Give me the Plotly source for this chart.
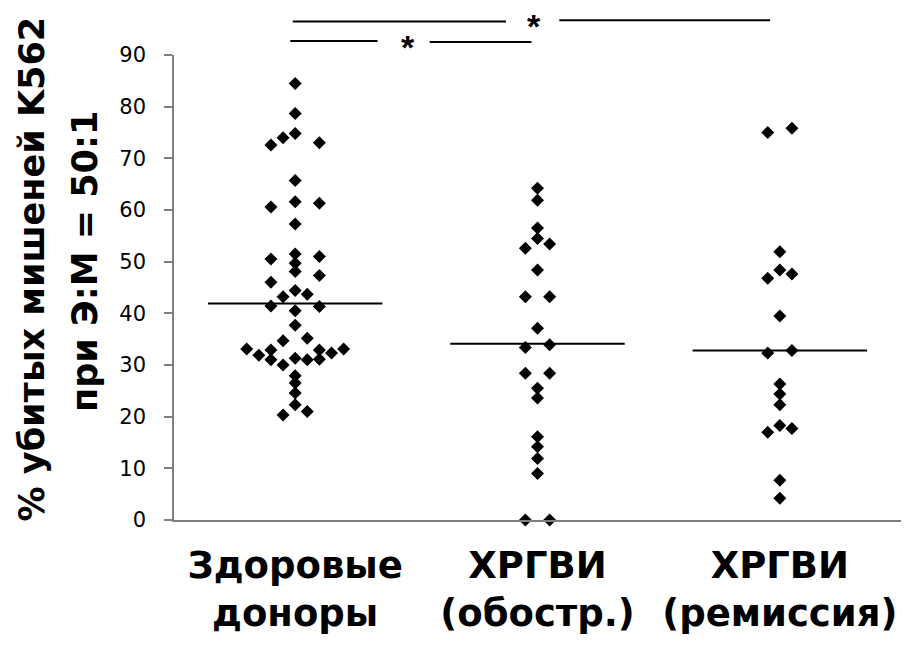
import plotly.graph_objects as go

categories = ["Здоровые<br>доноры", "ХРГВИ<br>(обостр.)", "ХРГВИ<br>(ремиссия)"]

healthy_values = [84.5, 78.7, 74.8, 74.0, 72.6, 73.0, 65.7, 60.6, 61.6, 61.3, 57.3,
                  50.5, 51.5, 49.7, 48.1, 51.0, 47.3, 46.0, 44.4, 43.2, 43.7, 41.4,
                  41.3, 40.5, 37.7, 34.7, 35.2, 33.1, 31.9, 32.9, 31.0, 30.0, 31.3,
                  31.0, 32.9, 31.1, 32.3, 33.1, 27.9, 26.5, 24.6, 22.3, 20.3, 21.0]
healthy_slots = [0, 0, 0, -1, -2, 2, 0, -2, 0, 2, 0,
                 -2, 0, 0, 0, 2, 2, -2, 0, -1, 1, -2,
                 2, 0, 0, -1, 1, -4, -3, -2, -2, -1, 0,
                 1, 2, 2, 3, 4, 0, 0, 0, 0, -1, 1]

exacerb_values = [64.2, 61.9, 56.5, 54.5, 52.6, 53.4, 48.4, 43.2, 43.2, 37.1, 33.4,
                  33.9, 28.4, 28.4, 25.5, 23.6, 16.1, 14.2, 11.9, 9.0, 0.0, 0.0]
exacerb_slots = [0, 0, 0, 0, -1, 1, 0, -1, 1, 0, -1,
                 1, -1, 1, 0, 0, 0, 0, 0, 0, -1, 1]

remission_values = [75.0, 75.8, 51.9, 48.4, 46.8, 47.6, 39.5, 32.3, 32.8, 26.3, 24.4,
                    22.3, 17.0, 18.3, 17.7, 7.7, 4.2]
remission_slots = [-1, 1, 0, 0, -1, 1, 0, -1, 1, 0, 0,
                   0, -1, 0, 1, 0, 0]

medians = [41.9, 34.1, 32.8]

y_ticks = [0, 10, 20, 30, 40, 50, 60, 70, 80, 90]
y_title_lines = ["% убитых мишеней K562", "при Э:М = 50:1"]

SLOT = 0.05
HALF = 0.36
FONT = "DejaVu Sans, Liberation Sans, Arial, sans-serif"

groups = [(healthy_values, healthy_slots), (exacerb_values, exacerb_slots),
          (remission_values, remission_slots)]

fig = go.Figure()
for i, (vals, slots) in enumerate(groups):
    pos = i + 1
    fig.add_trace(go.Scatter(
        x=[pos + s * SLOT for s in slots], y=vals, mode="markers",
        marker=dict(symbol="diamond", size=10, color="black", line=dict(width=0)),
        cliponaxis=False, showlegend=False, hoverinfo="y"))
    fig.add_trace(go.Scatter(
        x=[pos - HALF, pos + HALF], y=[medians[i], medians[i]], mode="lines",
        line=dict(color="black", width=2), showlegend=False, hoverinfo="skip"))

# significance brackets
brackets = [
    # (x0, x1, y_paper)
    (0.99, 1.87, 1.072), (2.09, 2.96, 1.075),
    (0.98, 1.34, 1.030), (1.555, 1.975, 1.028),
]
for x0, x1, yp in brackets:
    fig.add_shape(type="line", xref="x", yref="paper", x0=x0, x1=x1, y0=yp, y1=yp,
                  line=dict(color="black", width=2))

stars = [(1.985, 1.062), (1.465, 1.017)]
for xs, ys in stars:
    fig.add_annotation(x=xs, y=ys, xref="x", yref="paper", text="*", showarrow=False,
                       font=dict(family="Liberation Sans, Arial, sans-serif", size=34,
                                 color="black", weight="bold"),
                       yanchor="middle", xanchor="center")

# y-axis title, two lines
title_pos = [(-0.196, 0.540), (-0.1224, 0.555)]
for txt, (xp, yp) in zip(y_title_lines, title_pos):
    fig.add_annotation(x=xp, y=yp, xref="paper", yref="paper", text=txt,
                       showarrow=False, textangle=-90, xanchor="center", yanchor="middle",
                       font=dict(family=FONT, size=35, color="black", weight="bold"))

fig.update_layout(
    width=912, height=647,
    margin=dict(l=174, r=11, t=55, b=127),
    plot_bgcolor="white", paper_bgcolor="white",
    font=dict(family=FONT, color="black"),
    xaxis=dict(range=[0.5, 3.5], tickvals=[1, 2, 3], ticktext=categories,
               showline=True, linecolor="#7f7f7f", linewidth=1.5,
               ticks="", showgrid=False, zeroline=False, ticklabelstandoff=12,
               tickfont=dict(size=37, family=FONT, weight="bold", color="black")),
    yaxis=dict(range=[0, 90], tickvals=y_ticks, showline=True, linecolor="#7f7f7f",
               linewidth=1.5, ticks="outside", ticklen=8, tickcolor="#7f7f7f",
               tickwidth=1.5, showgrid=False, zeroline=False,
               ticklabelstandoff=14,
               tickfont=dict(size=21, family=FONT, color="black")),
)

fig.write_html("out.html")
